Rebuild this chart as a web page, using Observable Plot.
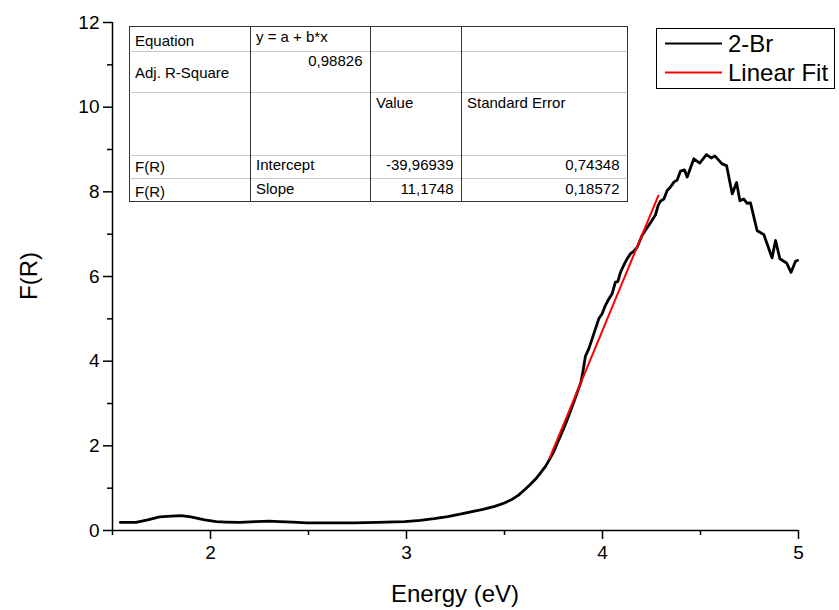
<!DOCTYPE html>
<html>
<head>
<meta charset="utf-8">
<script src="https://cdn.jsdelivr.net/npm/d3@7"></script>
<script src="https://cdn.jsdelivr.net/npm/@observablehq/plot@0.6"></script>
<style>
  html, body { margin: 0; padding: 0; background: #fff; }
  #chart { width: 839px; height: 610px; }
</style>
</head>
<body>
<div id="chart"></div>
<script>
// ---- data ----
const energy = [1.54,1.62,1.68,1.74,1.80,1.85,1.90,1.97,2.03,2.08,2.15,2.23,2.30,2.35,2.42,2.49,2.60,2.73,2.85,2.99,
  3.07,3.14,3.21,3.28,3.34,3.39,3.45,3.50,3.54,3.57,3.60,3.63,3.66,3.68,3.71,3.73,3.75,3.77,3.79,3.81,3.83,3.85,3.87,
  3.89,3.90,3.913,3.93,3.956,3.981,3.998,4.015,4.03,4.049,4.066,4.078,4.092,4.11,4.126,4.143,4.16,4.177,4.19,4.202,
  4.219,4.245,4.270,4.284,4.296,4.313,4.33,4.348,4.364,4.381,4.398,4.418,4.432,4.466,4.496,4.53,4.555,4.573,4.61,
  4.633,4.662,4.684,4.701,4.721,4.738,4.755,4.789,4.823,4.865,4.883,4.905,4.939,4.962,4.985,4.995];
const fr = [0.19,0.19,0.25,0.32,0.34,0.35,0.32,0.25,0.21,0.20,0.19,0.21,0.22,0.21,0.20,0.18,0.18,0.18,0.19,0.21,
  0.24,0.28,0.33,0.39,0.45,0.50,0.57,0.65,0.74,0.83,0.95,1.08,1.22,1.34,1.52,1.68,1.85,2.07,2.28,2.50,2.74,2.99,3.25,
  3.50,3.75,4.12,4.29,4.65,5.00,5.12,5.32,5.45,5.59,5.87,5.88,6.10,6.28,6.42,6.54,6.60,6.69,6.84,6.97,
  7.09,7.27,7.45,7.68,7.78,7.83,8.03,8.12,8.23,8.28,8.49,8.52,8.35,8.78,8.68,8.88,8.80,8.85,8.66,
  8.62,7.95,8.22,7.79,7.83,7.73,7.74,7.08,6.99,6.44,6.85,6.42,6.32,6.10,6.36,6.38];
const fitEnergy = [3.73, 4.285];
const fitFR = [1.71, 7.91];

const seriesNames = ["2-Br", "Linear Fit"];
const seriesColors = ["#000000", "#ff0000"];

const xMajor = [2, 3, 4, 5];
const xMinor = [1.5, 2.5, 3.5, 4.5];
const yMajor = [0, 2, 4, 6, 8, 10, 12];
const yMinor = [1, 3, 5, 7, 9, 11];

const xTitle = "Energy (eV)";
const yTitle = "F(R)";

const tableCells = [
  ["Equation", "y = a + b*x", "", ""],
  ["Adj. R-Square", "0,98826", "", ""],
  ["", "", "Value", "Standard Error"],
  ["F(R)", "Intercept", "-39,96939", "0,74348"],
  ["F(R)", "Slope", "11,1748", "0,18572"]
];

// ---- build ----
const curve = energy.map((e, i) => ({energy: e, fr: fr[i]}));
const fit = fitEnergy.map((e, i) => ({energy: e, fr: fitFR[i]}));

const font = "'Liberation Sans', Arial, Helvetica, sans-serif";
const intFmt = d3.format("d");

const plot = Plot.plot({
  width: 839,
  height: 610,
  marginLeft: 112,
  marginRight: 41,
  marginTop: 22,
  marginBottom: 80,
  x: {domain: [1.5, 5]},
  y: {domain: [0, 12]},
  style: {fontFamily: font, fontSize: "19px", color: "#000", background: "#fff", overflow: "visible"},
  marks: [
    Plot.axisX(xMajor, {tickSize: 9, tickPadding: 6, strokeWidth: 1.5, label: null, fontSize: 19, tickFormat: intFmt}),
    Plot.axisX(xMinor, {tickSize: 5, strokeWidth: 1.5, tickFormat: () => "", label: null}),
    Plot.axisY(yMajor, {tickSize: 9, tickPadding: 4, strokeWidth: 1.5, label: null, fontSize: 19, tickFormat: intFmt}),
    Plot.axisY(yMinor, {tickSize: 5, strokeWidth: 1.5, tickFormat: () => "", label: null}),
    Plot.ruleX([1.5], {y1: 0, y2: 12, stroke: "#000", strokeWidth: 1.5}),
    Plot.ruleY([0], {x1: 1.5, x2: 5, stroke: "#000", strokeWidth: 1.5}),
    Plot.line(curve, {x: "energy", y: "fr", stroke: seriesColors[0], strokeWidth: 2.8, strokeLinejoin: "round"}),
    Plot.line(fit, {x: "energy", y: "fr", stroke: seriesColors[1], strokeWidth: 2})
  ]
});

document.getElementById("chart").appendChild(plot);
const svg = d3.select(plot);

// axis titles
svg.append("text")
  .attr("x", 455).attr("y", 602)
  .attr("text-anchor", "middle")
  .attr("font-family", font).attr("font-size", 24).attr("fill", "#000")
  .text(xTitle);
svg.append("text")
  .attr("transform", "translate(37,276) rotate(-90)")
  .attr("text-anchor", "middle")
  .attr("font-family", font).attr("font-size", 24).attr("fill", "#000")
  .text(yTitle);

// legend
const lg = svg.append("g");
lg.append("rect").attr("x", 656.5).attr("y", 28.5).attr("width", 178).attr("height", 60)
  .attr("fill", "#fff").attr("stroke", "#000").attr("stroke-width", 1);
[43.5, 72.5].forEach((ly, i) => {
  lg.append("line").attr("x1", 665).attr("x2", 722).attr("y1", ly).attr("y2", ly)
    .attr("stroke", seriesColors[i]).attr("stroke-width", 2);
  lg.append("text").attr("x", 728).attr("y", ly + 8.5)
    .attr("text-anchor", "start")
    .attr("font-family", font).attr("font-size", 24).attr("fill", "#000")
    .text(seriesNames[i]);
});

// fit table
const colX = [129.5, 250.5, 370.5, 461.5, 627.5];
const rowY = [26.5, 51.5, 92.5, 155.5, 178.5, 201.5];
const tg = svg.append("g");
tg.append("rect").attr("x", colX[0]).attr("y", rowY[0])
  .attr("width", colX[4] - colX[0]).attr("height", rowY[5] - rowY[0])
  .attr("fill", "#fff").attr("stroke", "#333").attr("stroke-width", 1);
rowY.slice(1, -1).forEach(y => {
  tg.append("line").attr("x1", colX[0]).attr("x2", colX[4]).attr("y1", y).attr("y2", y)
    .attr("stroke", "#c8c8c8").attr("stroke-width", 1);
});
colX.slice(1, -1).forEach(x => {
  tg.append("line").attr("x1", x).attr("x2", x).attr("y1", rowY[0]).attr("y2", rowY[5])
    .attr("stroke", "#333").attr("stroke-width", 1);
});
const baseFirst = [46, 78.3, 0, 171.7, 196.7];
const baseOther = [41.7, 66, 108.3, 170, 194];
const rightAligned = (r, c) => (r === 1 && c === 1) || (r >= 3 && c >= 2);
tableCells.forEach((row, r) => {
  row.forEach((txt, c) => {
    if (!txt) return;
    const right = rightAligned(r, c);
    tg.append("text")
      .attr("x", right ? colX[c + 1] - 8 : colX[c] + 5.5)
      .attr("y", c === 0 ? baseFirst[r] : baseOther[r])
      .attr("text-anchor", right ? "end" : "start")
      .attr("font-family", font).attr("font-size", 15).attr("fill", "#000")
      .text(txt);
  });
});
</script>
</body>
</html>
